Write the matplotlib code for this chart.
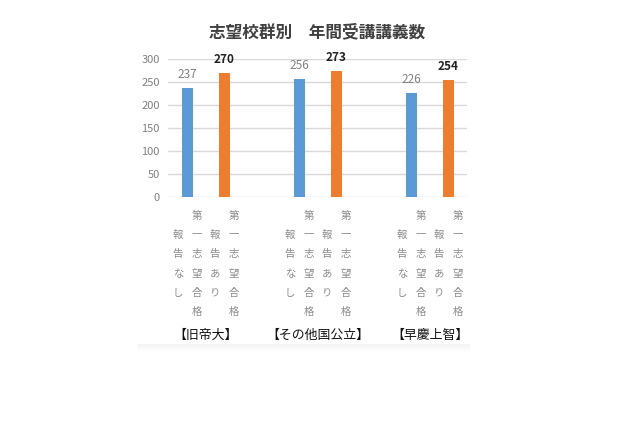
import matplotlib
matplotlib.use("Agg")
import matplotlib.pyplot as plt
import matplotlib.transforms as mtransforms
import numpy as np

plt.rcParams['font.family'] = ['Noto Sans CJK JP', 'DejaVu Sans']

title = "志望校群別　年間受講講義数"
groups = ["【旧帝大】", "【その他国公立】", "【早慶上智】"]
series_names = ["第一志望合格報告なし", "第一志望合格報告あり"]
no_report = [237, 256, 226]
reported = [270, 273, 254]
yticks = [0, 50, 100, 150, 200, 250, 300]

blue = "#5B9BD5"
orange = "#ED7D31"
grid_c = "#d9d9d9"
tick_c = "#808080"

W, H = 640, 426
fig = plt.figure(figsize=(6.4, 4.26), dpi=100)
fig.patch.set_facecolor("white")

ax_l, ax_r, ax_t, ax_b = 168, 467, 59, 197
ax = fig.add_axes([ax_l / W, 1 - ax_b / H, (ax_r - ax_l) / W, (ax_b - ax_t) / H])
ax.set_facecolor("white")

x = np.arange(len(groups))
off = 0.165
bw = 0.105
b1 = ax.bar(x - off, no_report, width=bw, color=blue, zorder=3)
b2 = ax.bar(x + off, reported, width=bw, color=orange, zorder=3)

ax.set_ylim(0, 300)
ax.set_xlim(-0.339, 2.33)
ax.set_yticks(yticks)
ax.set_yticklabels([str(v) for v in yticks], color=tick_c, fontsize=8)
ax.tick_params(axis="y", length=0, pad=6)
ax.set_xticks([])
for s in ax.spines.values():
    s.set_visible(False)
for v in yticks:
    ax.axhline(v, color=grid_c, lw=1.0, zorder=1)

for rect, v in zip(b1, no_report):
    ax.annotate(str(v), (rect.get_x() + rect.get_width() / 2, v), xytext=(0, 5),
                textcoords="offset points", ha="center", va="bottom",
                fontsize=8.5, color="#808080", annotation_clip=False)
for rect, v in zip(b2, reported):
    ax.annotate(str(v), (rect.get_x() + rect.get_width() / 2, v), xytext=(0, 5),
                textcoords="offset points", ha="center", va="bottom",
                fontsize=8.5, color="#222222", fontweight="bold", annotation_clip=False)

# vertical category labels (two columns per bar)
trans = mtransforms.blended_transform_factory(ax.transData, fig.transFigure)
row_h = 19.2
center_y = 264
col_dx = 0.085
lab_c = "#8c8c8c"

def vcol(xd, text):
    n = len(text)
    for i, ch in enumerate(text):
        ypx = center_y + (i - (n - 1) / 2) * row_h
        fig.text(xd, 1 - ypx / H, ch, transform=trans, ha="center", va="center",
                 fontsize=7.5, color=lab_c)

for xi in x:
    for sx, name in ((-off, series_names[0]), (off, series_names[1])):
        vcol(xi + sx - col_dx, name[6:])
        vcol(xi + sx + col_dx, name[:6])
    fig.text(xi, 1 - 335 / H, groups[xi], transform=trans, ha="center", va="center",
             fontsize=9.3, color="#111111")

fig.text(317 / W, 1 - 32 / H, title, ha="center", va="center", fontsize=12,
         color="#404040", fontweight="bold")

# faint bottom shadow of the chart card
sax = fig.add_axes([137 / W, 1 - 352 / H, (470 - 137) / W, 8 / H])
grad = np.linspace(0.955, 1.0, 20).reshape(-1, 1)
sax.imshow(np.repeat(grad, 2, axis=1), cmap="gray", vmin=0, vmax=1, aspect="auto")
sax.axis("off")

fig.savefig("out.png", dpi=100, facecolor="white")
